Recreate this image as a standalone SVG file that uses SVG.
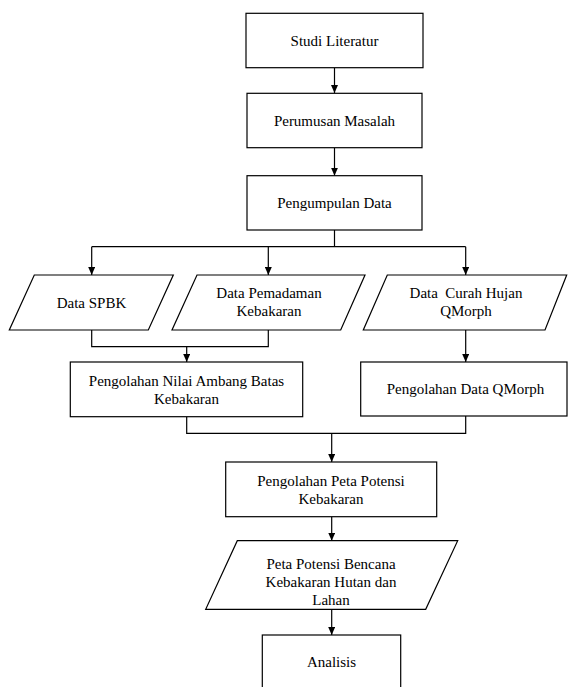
<svg xmlns="http://www.w3.org/2000/svg" width="568" height="687" viewBox="0 0 568 687">
<style>
.shape{fill:#fff;stroke:#000;stroke-width:1.2}
.conn{fill:none;stroke:#000;stroke-width:1.2}
.t{font-family:'Liberation Serif','DejaVu Serif','Noto Serif',Times,serif;font-size:15px;fill:#000;text-anchor:middle}
</style>
<defs>
<marker id="arr" viewBox="0 0 8 7" markerWidth="8" markerHeight="7" refX="8" refY="3.5" orient="auto" markerUnits="userSpaceOnUse">
<path d="M0,0 L8,3.5 L0,7 z" fill="#000"/>
</marker>
</defs>
<rect width="568" height="687" fill="#fff"/>
<g id="connectors">
<path class="conn" d="M334.5,68 V93" marker-end="url(#arr)"/>
<path class="conn" d="M334.5,148 V175.7" marker-end="url(#arr)"/>
<path class="conn" d="M334.5,230 V246.7 M91.7,246.7 H465.7"/>
<path class="conn" d="M91.7,246.7 V275" marker-end="url(#arr)"/>
<path class="conn" d="M268.3,246.7 V275" marker-end="url(#arr)"/>
<path class="conn" d="M465.7,246.7 V275" marker-end="url(#arr)"/>
<path class="conn" d="M91.7,330 V346.7 H268.3 V330"/>
<path class="conn" d="M186.7,346.7 V362" marker-end="url(#arr)"/>
<path class="conn" d="M465.7,330 V362" marker-end="url(#arr)"/>
<path class="conn" d="M186.7,416.7 V433.3 H465.7 V416"/>
<path class="conn" d="M331.7,433.3 V462" marker-end="url(#arr)"/>
<path class="conn" d="M331.7,516.7 V540.7" marker-end="url(#arr)"/>
<path class="conn" d="M331.7,609.3 V635" marker-end="url(#arr)"/>
</g>
<g id="studi-literatur">
<rect class="shape" x="246" y="13.3" width="177" height="54.4"/>
<text class="t" x="334.5" y="45.5">Studi Literatur</text>
</g>
<g id="perumusan-masalah">
<rect class="shape" x="247" y="93.3" width="175" height="54.4"/>
<text class="t" x="334.5" y="126">Perumusan Masalah</text>
</g>
<g id="pengumpulan-data">
<rect class="shape" x="247" y="175.7" width="175" height="54.3"/>
<text class="t" x="334.5" y="208">Pengumpulan Data</text>
</g>
<g id="data-spbk">
<polygon class="shape" points="34.3,275 173.3,275 148.3,330 9.3,330"/>
<text class="t" x="91.5" y="308">Data SPBK</text>
</g>
<g id="data-pemadaman">
<polygon class="shape" points="197,275 365,275 340.7,330 172,330"/>
<text class="t" x="269" y="298">Data Pemadaman</text>
<text class="t" x="269" y="316">Kebakaran</text>
</g>
<g id="data-curah-hujan">
<polygon class="shape" points="387.3,275 566.7,275 545,330 363.3,330"/>
<text class="t" x="466" y="298" xml:space="preserve">Data  Curah Hujan</text>
<text class="t" x="466" y="316">QMorph</text>
</g>
<g id="pengolahan-nilai">
<rect class="shape" x="70.3" y="362" width="232.4" height="54.7"/>
<text class="t" x="186.5" y="386">Pengolahan Nilai Ambang Batas</text>
<text class="t" x="186.5" y="404">Kebakaran</text>
</g>
<g id="pengolahan-qmorph">
<rect class="shape" x="360.7" y="362" width="206.3" height="54"/>
<text class="t" x="465.5" y="393.5">Pengolahan Data QMorph</text>
</g>
<g id="pengolahan-peta">
<rect class="shape" x="225.7" y="462" width="211" height="54.7"/>
<text class="t" x="331" y="485.7">Pengolahan Peta Potensi</text>
<text class="t" x="331" y="504">Kebakaran</text>
</g>
<g id="peta-potensi">
<polygon class="shape" points="237.3,540.7 457.7,540.7 425.7,609.3 205.7,609.3"/>
<text class="t" x="331" y="569">Peta Potensi Bencana</text>
<text class="t" x="331" y="587.3">Kebakaran Hutan dan</text>
<text class="t" x="331" y="605">Lahan</text>
</g>
<g id="analisis">
<rect class="shape" x="262.3" y="635" width="138.4" height="62"/>
<text class="t" x="331.5" y="666.7">Analisis</text>
</g>
</svg>
